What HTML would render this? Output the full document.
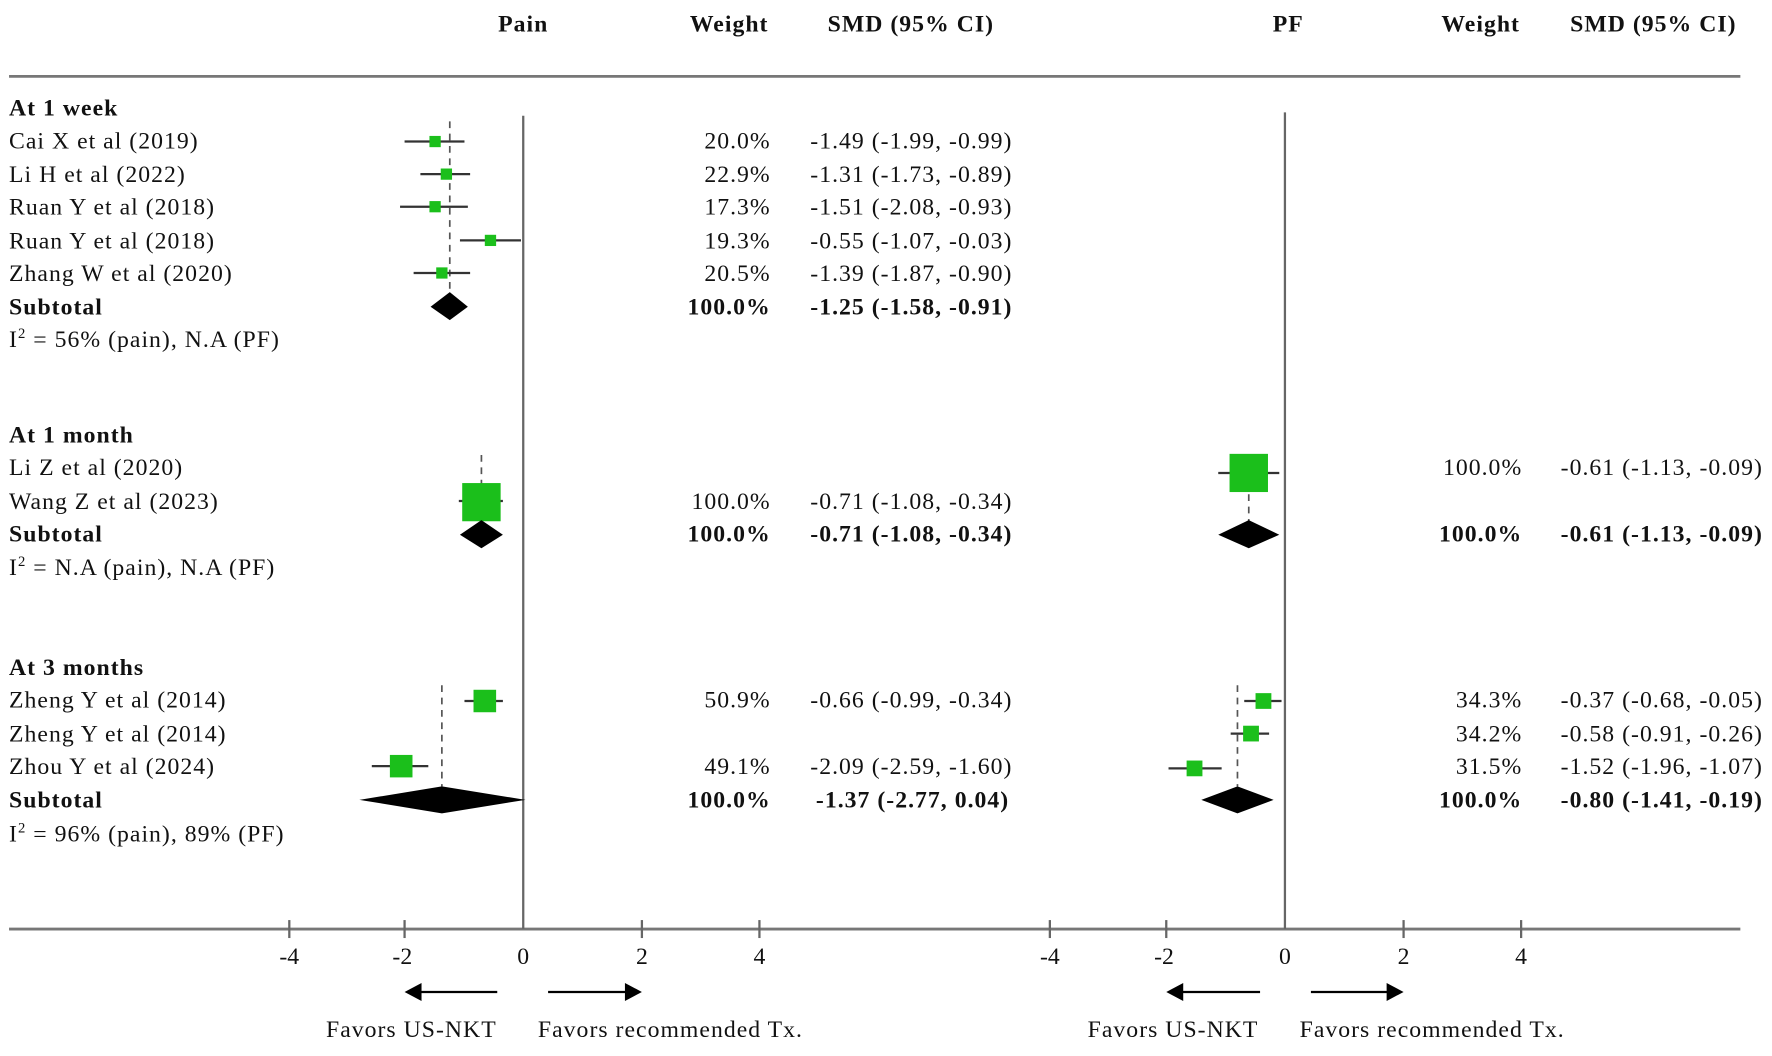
<!DOCTYPE html>
<html><head><meta charset="utf-8">
<style>
html,body{margin:0;padding:0;background:#fff;}
svg{display:block;}
text{font-family:"Liberation Serif",serif;font-size:21px;fill:#111;letter-spacing:0.9px;}
.b{font-weight:bold;}
.t{letter-spacing:0;}
</style></head>
<body>
<svg width="1772" height="1056" viewBox="0 0 1568 940" preserveAspectRatio="none" xmlns="http://www.w3.org/2000/svg">
<text class="b" x="463" y="28" text-anchor="middle">Pain</text>
<text class="b" x="680" y="28" text-anchor="end">Weight</text>
<text class="b" x="806" y="28" text-anchor="middle">SMD (95% CI)</text>
<text class="b" x="1140" y="28" text-anchor="middle">PF</text>
<text class="b" x="1345" y="28" text-anchor="end">Weight</text>
<text class="b" x="1463" y="28" text-anchor="middle">SMD (95% CI)</text>
<line x1="8" y1="68" x2="1540" y2="68" stroke="#777" stroke-width="2.5"/>
<line x1="8" y1="827" x2="1540" y2="827" stroke="#777" stroke-width="2.5"/>
<line x1="463" y1="103" x2="463" y2="827" stroke="#666" stroke-width="2"/>
<line x1="1137" y1="100" x2="1137" y2="827" stroke="#666" stroke-width="2"/>
<g stroke="#666" stroke-width="2">
<line x1="256" y1="819" x2="256" y2="835"/><line x1="358" y1="819" x2="358" y2="835"/><line x1="568" y1="819" x2="568" y2="835"/><line x1="672" y1="819" x2="672" y2="835"/>
<line x1="929" y1="819" x2="929" y2="835"/><line x1="1032" y1="819" x2="1032" y2="835"/><line x1="1242" y1="819" x2="1242" y2="835"/><line x1="1346" y1="819" x2="1346" y2="835"/>
</g>
<g text-anchor="middle" class="t">
<text class="t" x="256" y="858">-4</text><text class="t" x="356" y="858">-2</text><text class="t" x="463" y="858">0</text><text class="t" x="568" y="858">2</text><text class="t" x="672" y="858">4</text>
<text class="t" x="929" y="858">-4</text><text class="t" x="1030" y="858">-2</text><text class="t" x="1137" y="858">0</text><text class="t" x="1242" y="858">2</text><text class="t" x="1346" y="858">4</text>
</g>
<g stroke="#000" stroke-width="2">
<line x1="440" y1="883" x2="368" y2="883"/><line x1="485" y1="883" x2="558" y2="883"/>
<line x1="1115" y1="883" x2="1042" y2="883"/><line x1="1160" y1="883" x2="1232" y2="883"/>
</g>
<polygon points="358,883 373,875 373,891"/><polygon points="568,883 553,875 553,891"/>
<polygon points="1032,883 1047,875 1047,891"/><polygon points="1242,883 1227,875 1227,891"/>
<text x="364" y="923" text-anchor="middle">Favors US-NKT</text>
<text x="476" y="923">Favors recommended Tx.</text>
<text x="1038" y="923" text-anchor="middle">Favors US-NKT</text>
<text x="1150" y="923">Favors recommended Tx.</text>

<text class="b" x="8" y="103">At 1 week</text>
<text x="8" y="132">Cai X et al (2019)</text>
<text x="8" y="162">Li H et al (2022)</text>
<text x="8" y="191">Ruan Y et al (2018)</text>
<text x="8" y="221">Ruan Y et al (2018)</text>
<text x="8" y="250">Zhang W et al (2020)</text>
<text class="b" x="8" y="280">Subtotal</text>
<text x="8" y="309">I<tspan font-size="13" dy="-8">2</tspan><tspan dy="8"> = 56% (pain), N.A (PF)</tspan></text>
<text class="b" x="8" y="394">At 1 month</text>
<text x="8" y="423">Li Z et al (2020)</text>
<text x="8" y="453">Wang Z et al (2023)</text>
<text class="b" x="8" y="482">Subtotal</text>
<text x="8" y="512">I<tspan font-size="13" dy="-8">2</tspan><tspan dy="8"> = N.A (pain), N.A (PF)</tspan></text>
<text class="b" x="8" y="601">At 3 months</text>
<text x="8" y="630">Zheng Y et al (2014)</text>
<text x="8" y="660">Zheng Y et al (2014)</text>
<text x="8" y="689">Zhou Y et al (2024)</text>
<text class="b" x="8" y="719">Subtotal</text>
<text x="8" y="749">I<tspan font-size="13" dy="-8">2</tspan><tspan dy="8"> = 96% (pain), 89% (PF)</tspan></text>

<g text-anchor="end">
<text x="682" y="132">20.0%</text><text x="682" y="162">22.9%</text><text x="682" y="191">17.3%</text><text x="682" y="221">19.3%</text><text x="682" y="250">20.5%</text>
<text class="b" x="682" y="280">100.0%</text>
<text x="682" y="453">100.0%</text><text class="b" x="682" y="482">100.0%</text>
<text x="682" y="630">50.9%</text><text x="682" y="689">49.1%</text><text class="b" x="682" y="719">100.0%</text>
<text x="1347" y="423">100.0%</text><text class="b" x="1347" y="482">100.0%</text>
<text x="1347" y="630">34.3%</text><text x="1347" y="660">34.2%</text><text x="1347" y="689">31.5%</text><text class="b" x="1347" y="719">100.0%</text>
</g>
<g>
<text x="717" y="132">-1.49 (-1.99, -0.99)</text>
<text x="717" y="162">-1.31 (-1.73, -0.89)</text>
<text x="717" y="191">-1.51 (-2.08, -0.93)</text>
<text x="717" y="221">-0.55 (-1.07, -0.03)</text>
<text x="717" y="250">-1.39 (-1.87, -0.90)</text>
<text class="b" x="717" y="280">-1.25 (-1.58, -0.91)</text>
<text x="717" y="453">-0.71 (-1.08, -0.34)</text>
<text class="b" x="717" y="482">-0.71 (-1.08, -0.34)</text>
<text x="717" y="630">-0.66 (-0.99, -0.34)</text>
<text x="717" y="689">-2.09 (-2.59, -1.60)</text>
<text class="b" x="722" y="719">-1.37 (-2.77, 0.04)</text>
<text x="1381" y="423">-0.61 (-1.13, -0.09)</text>
<text class="b" x="1381" y="482">-0.61 (-1.13, -0.09)</text>
<text x="1381" y="630">-0.37 (-0.68, -0.05)</text>
<text x="1381" y="660">-0.58 (-0.91, -0.26)</text>
<text x="1381" y="689">-1.52 (-1.96, -1.07)</text>
<text class="b" x="1381" y="719">-0.80 (-1.41, -0.19)</text>
</g>

<g stroke="#555" stroke-width="1.5" stroke-dasharray="6,5">
<line x1="398" y1="108" x2="398" y2="262"/>
<line x1="426" y1="405" x2="426" y2="465"/>
<line x1="391" y1="610" x2="391" y2="700"/>
<line x1="1105" y1="440" x2="1105" y2="465"/>
<line x1="1095" y1="610" x2="1095" y2="700"/>
</g>
<g stroke="#333" stroke-width="2">
<line x1="358" y1="126" x2="411" y2="126"/>
<line x1="372" y1="155" x2="416" y2="155"/>
<line x1="354" y1="184" x2="414" y2="184"/>
<line x1="407" y1="214" x2="461" y2="214"/>
<line x1="366" y1="243" x2="416" y2="243"/>
<line x1="406" y1="446" x2="445" y2="446"/>
<line x1="411" y1="624" x2="445" y2="624"/>
<line x1="329" y1="682" x2="379" y2="682"/>
<line x1="1078" y1="421" x2="1132" y2="421"/>
<line x1="1101" y1="624" x2="1134" y2="624"/>
<line x1="1089" y1="653" x2="1123" y2="653"/>
<line x1="1034" y1="684" x2="1081" y2="684"/>
</g>
<g fill="#1bbf1b">
<rect x="380" y="121" width="10" height="10"/>
<rect x="390" y="150" width="10" height="10"/>
<rect x="380" y="179" width="10" height="10"/>
<rect x="429" y="209" width="10" height="10"/>
<rect x="386" y="238" width="10" height="10"/>
<rect x="409" y="430" width="34" height="34"/>
<rect x="419" y="614" width="20" height="20"/>
<rect x="345" y="672" width="20" height="20"/>
<rect x="1088" y="404" width="34" height="34"/>
<rect x="1111" y="617" width="14" height="14"/>
<rect x="1100" y="646" width="14" height="14"/>
<rect x="1050" y="677" width="14" height="14"/>
</g>
<polygon points="381,273 398,260 414,273 398,285"/>
<polygon points="407,476 426,463 445,476 426,488"/>
<polygon points="318,712 391,700 465,712 391,724"/>
<polygon points="1078,476 1105,463 1132,476 1105,488"/>
<polygon points="1063,712 1095,700 1127,712 1095,724"/>
</svg>
</body></html>
